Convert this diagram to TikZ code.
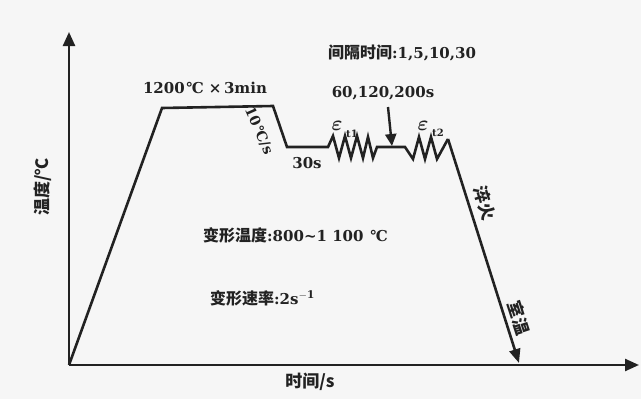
\documentclass[tikz,border=0pt]{standalone}
\usepackage{amsmath}
\usepackage{fontspec}
\setmainfont{DejaVu Serif}
\newfontfamily\cjk{Noto Sans CJK SC}
\usetikzlibrary{arrows.meta}
\definecolor{ink}{HTML}{222222}
\definecolor{bg}{HTML}{F6F6F6}
\newcommand{\degc}{\kern0.05em\textdegree\kern-0.08em C}
\tikzset{
  curve/.style={draw=ink, line width=2.6pt, line join=miter},
  axis/.style={draw=ink, line width=2.4pt, -{Triangle[length=14pt,width=12pt]}},
  lbl/.style={font=\bfseries\fontsize{15}{17}\selectfont, text=ink, inner sep=0pt},
  clbl/.style={font=\cjk\bfseries\fontsize{17}{19}\selectfont, text=ink, inner sep=0pt},
  sub/.style={font=\bfseries\fontsize{10}{11}\selectfont, text=ink, inner sep=0pt},
  eps/.style={font=\fontsize{21}{23}\selectfont, text=ink, inner sep=0pt},
}
\begin{document}
\begin{tikzpicture}[x=1pt,y=-1pt]
\fill[bg] (0,0) rectangle (641,399);
\useasboundingbox (0,0) rectangle (641,399);
% axes
\coordinate (O) at (69,365);
\coordinate (ytop) at (69,32);
\coordinate (xend) at (639,365);
\draw[axis] (O) -- (ytop);
\draw[axis] (O) -- (xend);
% curve coordinates
\coordinate (p1) at (162,108);
\coordinate (p2) at (273,106);
\coordinate (p3) at (287,147);
\coordinate (p4) at (328,147);
\coordinate (p5) at (377,147);
\coordinate (p6) at (405,147);
\coordinate (p7) at (448,139);
\coordinate (pend) at (519,363);
\draw[curve] (O) -- (p1) -- (p2) -- (p3) -- (p4)
  -- (333,136) -- (339,158) -- (345,136) -- (351,158) -- (357,136) -- (363,158) -- (368,137) -- (373,158) -- (p5)
  -- (p6) -- (413,159) -- (419,137) -- (425,159) -- (431,137) -- (437,159) -- (p7);
\draw[curve, -{Triangle[length=14pt,width=11pt]}] (p7) -- (pend);
% arrow pointing at hold
\coordinate (aS) at (388,107);
\coordinate (aE) at (392,146);
\draw[draw=ink, line width=2.4pt, -{Triangle[length=12pt,width=11pt]}] (aS) -- (aE);
% labels
\node[lbl] (t1200) at (205,88) {1200\degc\ ×\,3min};
\node[lbl, font=\bfseries\fontsize{14}{16}\selectfont, rotate=-66] (trate) at (259,131) {10\degc/s};
\node[lbl] (t30) at (307,163) {30s};
\node[lbl, anchor=west] (tint) at (328,53) {{\cjk\fontsize{16}{18}\selectfont 间隔时间}:1,5,10,30};
\node[lbl] (t60) at (383,93) {60,120,200s};
\node[eps] (e1) at (337,126) {$\boldsymbol{\varepsilon}$};
\node[sub] (e1s) at (352,134) {t1};
\node[eps] (e2) at (423,126) {$\boldsymbol{\varepsilon}$};
\node[sub] (e2s) at (438,133) {t2};
\node[clbl, rotate=90] (ylab) at (43,187) {温度/℃};
\node[lbl, anchor=west] (ttemp) at (203,235) {{\cjk\fontsize{16}{18}\selectfont 变形温度}:800\textasciitilde1 100 \degc};
\node[lbl, anchor=west] (tspeed) at (210,298) {{\cjk\fontsize{16}{18}\selectfont 变形速率}:2s$^{\mathbf{-1}}$};
\node[clbl] (xlab) at (310,382) {时间/s};
\node[clbl, rotate=-72] (tq) at (485,203) {淬火};
\node[clbl, rotate=-72] (troom) at (519,318) {室温};
\end{tikzpicture}
\end{document}
